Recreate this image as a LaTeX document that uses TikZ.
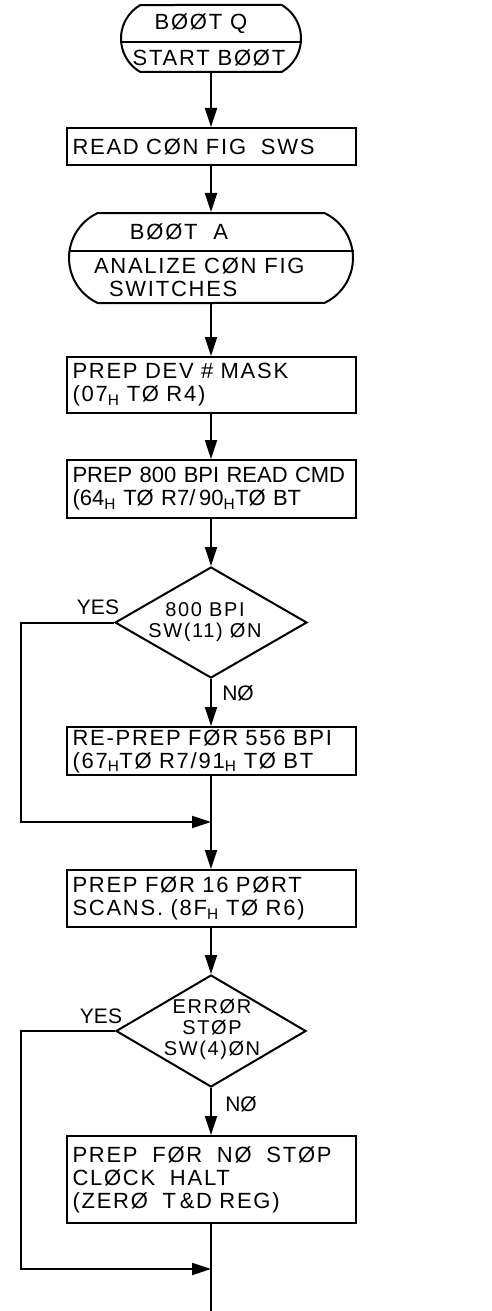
\documentclass[tikz,border=0pt]{standalone}
\usepackage{fontspec}
\setmainfont{Liberation Sans}
\usepackage{tikz}
\usetikzlibrary{arrows.meta,positioning,calc,shapes.geometric,shapes.misc}
\newcommand{\hsub}{\textsubscript{H}}
\newcommand{\wide}{\addfontfeature{LetterSpace=8}}

\begin{document}
\begin{tikzpicture}[x=1pt,y=-1pt,line width=2pt,
    stepbox/.style={draw,rectangle,text width=277pt,inner xsep=6pt,
      inner ysep=0pt,align=left,font=\fontsize{22}{23}\selectfont\wide},
    endbox/.style={draw,rounded rectangle,inner sep=0pt},
    endtext/.style={font=\fontsize{22}{23}\selectfont\wide,inner sep=0pt,align=left},
    testbox/.style={draw,diamond,inner sep=0pt},
    testtext/.style={font=\fontsize{20}{21}\selectfont\wide,align=center,inner sep=0pt},
    flowline/.style={-{Triangle[length=19pt,width=12pt]}},
    yesno/.style={font=\fontsize{21}{22}\selectfont,inner sep=0pt}
  ]
    \useasboundingbox (0,0) rectangle (491,1311);

    % start terminal
    \node[endbox,rounded rectangle arc length=120,minimum width=180pt,
      minimum height=67pt] (bootq) at (211,38.5) {};
    \draw ([yshift=-3.5pt,xshift=0.3pt]bootq.west) -- ([yshift=-3.5pt,xshift=-0.3pt]bootq.east);
    \node[endtext] (bootqtop) at (201,24) {BØØT Q};
    \node[endtext] (bootqbot) at (209,58) {START BØØT};

    \node[stepbox,minimum height=37pt] (read) at (211,146.5)
      {READ CØN FIG\ \ SWS};

    \node[endbox,rounded rectangle arc length=130,minimum width=284pt,
      minimum height=90pt] (boota) at (211,258) {};
    \draw ([yshift=7pt,xshift=0.5pt]boota.west) -- ([yshift=7pt,xshift=-0.5pt]boota.east);
    \node[endtext] (bootatop) at (179,232) {BØØT\ \ A};
    \node[endtext,anchor=west] (bootabot) at (93,277)
      {ANALIZE CØN FIG\\\hspace*{15pt}SWITCHES};

    \node[stepbox,minimum height=56pt] (dev) at (211,385)
      {PREP DEV \# MASK\\(07\hsub\ TØ R4)};
    \node[stepbox,minimum height=58pt,font=\fontsize{22}{23}\selectfont]
      (bpi) at (211,489)
      {PREP 800 BPI READ CMD\\(64\hsub\ TØ R7/\,90\hsub TØ BT};

    % first test
    \node[testbox,minimum width=192pt,minimum height=111pt] (d1) at (211,622.5) {};
    \node[testtext] (d1txt) at (205,622) {800 BPI\\SW(11) ØN};
    \node[yesno] (yes1) at (98,607) {YES};
    \node[yesno] (no1) at (238,693) {NØ};

    \node[stepbox,minimum height=48pt] (repre) at (211,751)
      {RE-PREP FØR 556 BPI\\(67\hsub TØ R7/91\hsub\ TØ BT};
    \node[stepbox,minimum height=57pt] (port) at (211,898.5)
      {PREP FØR 16 PØRT\\SCANS. (8F\hsub\ TØ R6)};

    % second test
    \node[testbox,minimum width=190pt,minimum height=112pt] (d2) at (211,1031) {};
    \node[testtext] (d2txt) at (212,1029) {ERRØR\\STØP\\SW(4)ØN};
    \node[yesno] (yes2) at (101,1016) {YES};
    \node[yesno] (no2) at (241,1104) {NØ};

    \node[stepbox,minimum height=87pt] (nostop) at (211,1179.5)
      {PREP\ \ FØR\ \ NØ\ \ STØP\\CLØCK\ \ HALT\\(ZERØ\ \ T\,\&D REG)};

    \coordinate (m1) at (211,822);
    \coordinate (m2) at (211,1269);
    \coordinate (tail) at (211,1311);
    \coordinate (c1) at ([xshift=-93pt]d1.west);
    \coordinate (c2) at ([xshift=-94pt]d2.west);

    \draw[flowline] (bootq) -- (read);
    \draw[flowline] (read) -- (boota);
    \draw[flowline] (boota) -- (dev);
    \draw[flowline] (dev) -- (bpi);
    \draw[flowline] (bpi) -- (d1);
    \draw[flowline] (d1) -- (repre);
    \draw[flowline] (repre) -- (port);
    \draw[flowline] (port) -- (d2);
    \draw[flowline] (d2) -- (nostop);
    \draw (nostop) -- (tail);
    \draw[flowline] (d1.west) -- (c1) |- (m1);
    \draw[flowline] (d2.west) -- (c2) |- (m2);
  \end{tikzpicture}
\end{document}
